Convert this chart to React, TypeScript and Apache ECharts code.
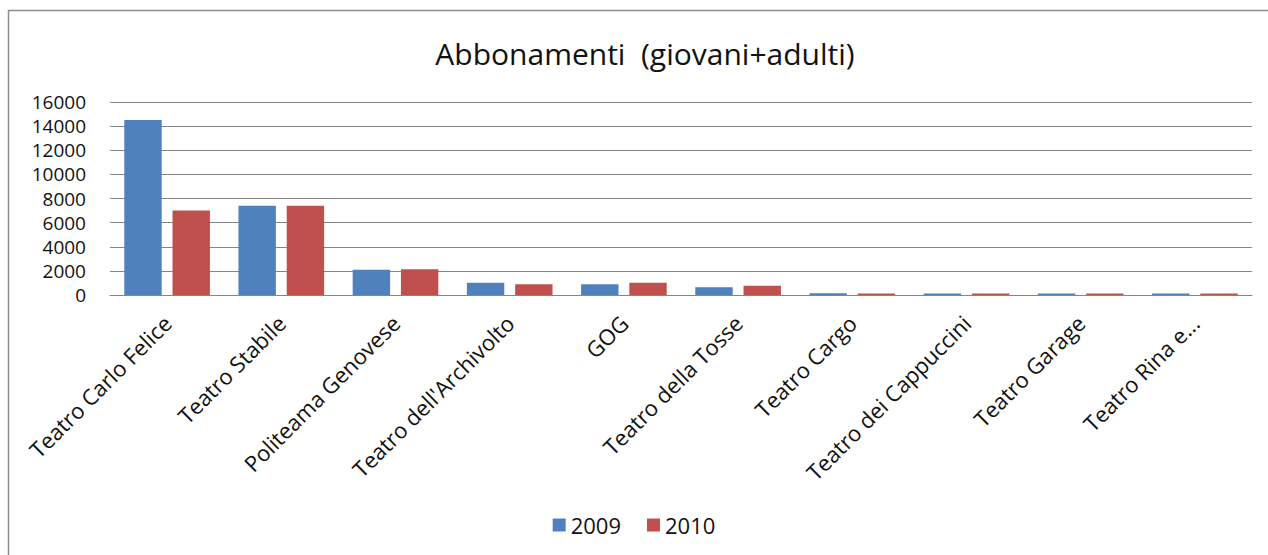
import React, { useEffect, useRef } from "react";
import * as echarts from "echarts";

const categories = [
  "Teatro Carlo Felice",
  "Teatro Stabile",
  "Politeama Genovese",
  "Teatro dell'Archivolto",
  "GOG",
  "Teatro della Tosse",
  "Teatro Cargo",
  "Teatro dei Cappuccini",
  "Teatro Garage",
  "Teatro Rina e...",
];
const values2009 = [14500, 7400, 2100, 1020, 890, 640, 140, 130, 130, 130];
const values2010 = [7000, 7400, 2130, 890, 1020, 770, 130, 130, 130, 130];
const yTicks = [0, 2000, 4000, 6000, 8000, 10000, 12000, 14000, 16000];

const FONT = "'Open Sans', 'Noto Sans', sans-serif";

export default function App() {
  const ref = useRef<HTMLDivElement>(null);
  useEffect(() => {
    document.body.style.margin = "0";
    const chart = echarts.init(ref.current!, null, { renderer: "svg" });
    chart.setOption({
      animation: false,
      backgroundColor: "#ffffff",
      title: {
        text: "Abbonamenti  (giovani+adulti)",
        left: 640,
        textAlign: "center",
        top: 33,
        textStyle: { fontFamily: FONT, fontSize: 30, fontWeight: "normal", color: "#111" },
      },
      legend: {
        bottom: 14,
        left: "center",
        itemWidth: 13,
        itemHeight: 13,
        itemGap: 26,
        icon: "rect",
        textStyle: { fontFamily: FONT, fontSize: 22, color: "#111" },
        data: ["2009", "2010"],
      },
      graphic: [
        {
          type: "rect",
          shape: { x: 8.5, y: 10.5, width: 1300, height: 600 },
          style: { fill: "none", stroke: "#8c8c8c", lineWidth: 1.5 },
          silent: true,
        },
      ],
      grid: { left: 110, right: 16, top: 102, bottom: 260 },
      xAxis: {
        type: "category",
        data: categories,
        axisLine: { lineStyle: { color: "#868686" } },
        axisTick: { show: false },
        axisLabel: {
          rotate: 45,
          interval: 0,
          margin: 24,
          fontFamily: FONT,
          fontSize: 22,
          color: "#111",
        },
      },
      yAxis: {
        type: "value",
        min: 0,
        max: 16000,
        interval: 2000,
        axisLine: { show: false },
        axisTick: { show: false },
        splitLine: { lineStyle: { color: "#868686", width: 1 } },
        axisLabel: {
          margin: 24,
          fontFamily: FONT,
          fontSize: 19,
          lineHeight: 19,
          color: "#111",
          formatter: (v: number) => (yTicks.includes(v) ? String(v) : ""),
        },
      },
      series: [
        {
          name: "2009",
          type: "bar",
          data: values2009,
          itemStyle: { color: "#4F81BD" },
          barGap: "29%",
          barCategoryGap: "25%",
        },
        {
          name: "2010",
          type: "bar",
          data: values2010,
          itemStyle: { color: "#C0504D" },
          barGap: "29%",
          barCategoryGap: "25%",
        },
      ],
    });
    return () => chart.dispose();
  }, []);
  return (
    <div
      ref={ref}
      style={{ position: "absolute", left: 0, top: 0, width: 1268, height: 555 }}
    />
  );
}
